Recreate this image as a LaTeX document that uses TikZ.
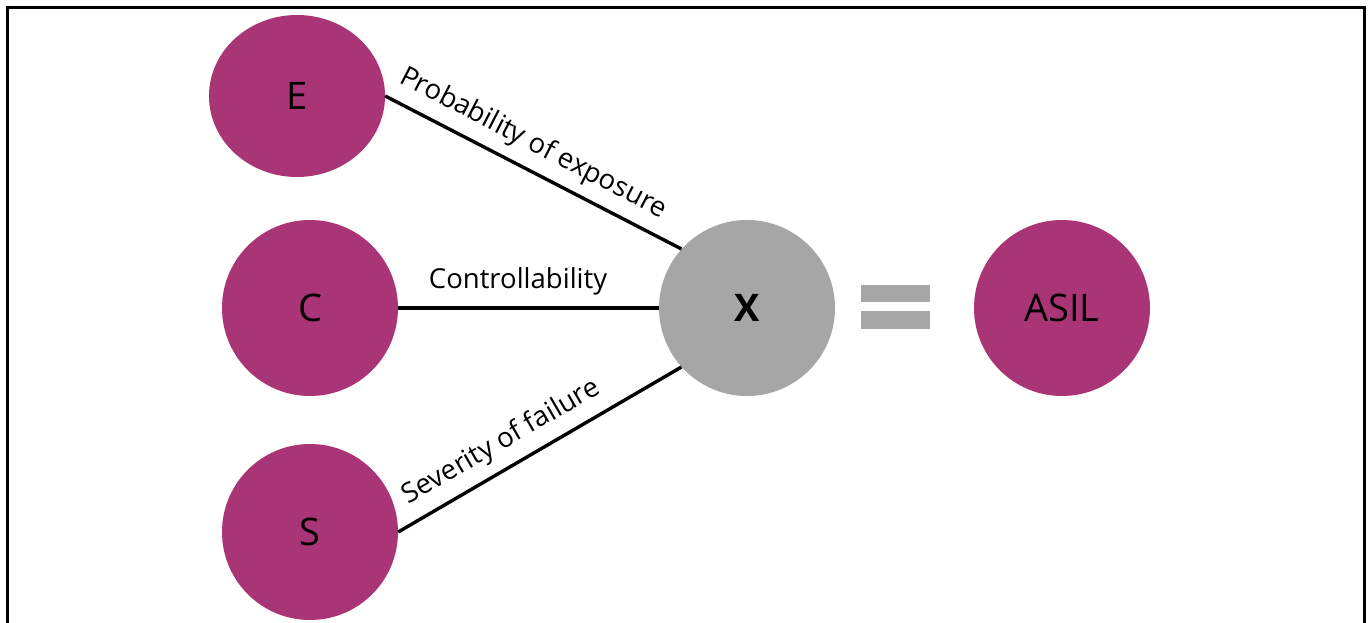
\documentclass[tikz,border=0pt]{standalone}
\usepackage{fontspec}
\setmainfont{Open Sans}
\usetikzlibrary{shapes.geometric}
\definecolor{asilmag}{HTML}{A93576}
\definecolor{xgray}{HTML}{A6A6A6}
\begin{document}
\begin{tikzpicture}[x=1pt,y=-1pt,
  circ/.style={fill=asilmag, inner sep=0pt, font=\fontsize{38}{40}\selectfont},
  graycirc/.style={circle, fill=xgray, inner sep=0pt, minimum size=176pt, font=\fontsize{38}{40}\selectfont\bfseries},
  conn/.style={line width=3.4pt},
  lbl/.style={font=\fontsize{27.5}{30}\selectfont, inner sep=0pt},
  frame/.style={line width=3pt},
  eqbar/.style={fill=xgray, draw=none}]
\useasboundingbox (0,0) rectangle (1370,623);
\draw[frame] (7,625) -- (7,8) -- (1364,8) -- (1364,625);
\node[circ, shape=ellipse, minimum width=176pt, minimum height=162pt] (E) at (297,96) {E};
\node[circ, shape=circle, minimum size=176pt] (C) at (310,308) {C};
\node[circ, shape=circle, minimum size=176pt] (S) at (310,532) {S};
\node[graycirc] (X) at (747,308) {X};
\node[circ, shape=circle, minimum size=176pt] (A) at (1062,308) {ASIL};
\draw[conn] (E.east) -- node[lbl, sloped, pos=0.46, above=10pt] {Probability of exposure} (X.138);
\draw[conn] (C.east) -- node[lbl, pos=0.46, above=11pt] {Controllability} (X.west);
\draw[conn] (S.east) -- node[lbl, sloped, pos=0.41, above=10pt] {Severity of failure} (X.-138);
\path[eqbar] (861,285) rectangle (930,302);
\path[eqbar] (861,311) rectangle (930,329);
\end{tikzpicture}
\end{document}
